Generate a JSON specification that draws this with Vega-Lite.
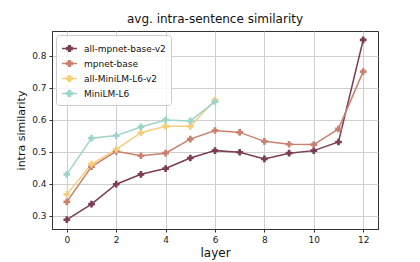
{
  "$schema": "https://vega.github.io/schema/vega-lite/v6.json",
  "autosize": {"type": "none"},
  "padding": {"left": 52, "top": 31, "right": 42, "bottom": 33},
  "width": 326,
  "height": 198,
  "background": "white",
  "config": {
    "font": "DejaVu Sans",
    "view": {"stroke": "#333", "strokeWidth": 1},
    "axis": {"gridColor": "#cfcfcf", "gridWidth": 1, "domainColor": "#333", "tickColor": "#333", "labelFontSize": 9, "labelColor": "#222", "titleFontWeight": "normal", "titleColor": "#111", "labelPadding": 3, "tickSize": 3}
  },
  "title": {"text": "avg. intra-sentence similarity", "fontSize": 12, "fontWeight": "normal", "font": "DejaVu Sans", "color": "#111", "offset": 5},
  "data": {"values": [
    {"model": "all-mpnet-base-v2", "layer": 0, "sim": 0.288},
    {"model": "all-mpnet-base-v2", "layer": 1, "sim": 0.337},
    {"model": "all-mpnet-base-v2", "layer": 2, "sim": 0.399},
    {"model": "all-mpnet-base-v2", "layer": 3, "sim": 0.43},
    {"model": "all-mpnet-base-v2", "layer": 4, "sim": 0.448},
    {"model": "all-mpnet-base-v2", "layer": 5, "sim": 0.481},
    {"model": "all-mpnet-base-v2", "layer": 6, "sim": 0.504},
    {"model": "all-mpnet-base-v2", "layer": 7, "sim": 0.499},
    {"model": "all-mpnet-base-v2", "layer": 8, "sim": 0.478},
    {"model": "all-mpnet-base-v2", "layer": 9, "sim": 0.496},
    {"model": "all-mpnet-base-v2", "layer": 10, "sim": 0.504},
    {"model": "all-mpnet-base-v2", "layer": 11, "sim": 0.531},
    {"model": "all-mpnet-base-v2", "layer": 12, "sim": 0.85},
    {"model": "mpnet-base", "layer": 0, "sim": 0.344},
    {"model": "mpnet-base", "layer": 1, "sim": 0.454},
    {"model": "mpnet-base", "layer": 2, "sim": 0.502},
    {"model": "mpnet-base", "layer": 3, "sim": 0.488},
    {"model": "mpnet-base", "layer": 4, "sim": 0.496},
    {"model": "mpnet-base", "layer": 5, "sim": 0.54},
    {"model": "mpnet-base", "layer": 6, "sim": 0.567},
    {"model": "mpnet-base", "layer": 7, "sim": 0.561},
    {"model": "mpnet-base", "layer": 8, "sim": 0.533},
    {"model": "mpnet-base", "layer": 9, "sim": 0.524},
    {"model": "mpnet-base", "layer": 10, "sim": 0.523},
    {"model": "mpnet-base", "layer": 11, "sim": 0.572},
    {"model": "mpnet-base", "layer": 12, "sim": 0.751},
    {"model": "all-MiniLM-L6-v2", "layer": 0, "sim": 0.367},
    {"model": "all-MiniLM-L6-v2", "layer": 1, "sim": 0.462},
    {"model": "all-MiniLM-L6-v2", "layer": 2, "sim": 0.508},
    {"model": "all-MiniLM-L6-v2", "layer": 3, "sim": 0.56},
    {"model": "all-MiniLM-L6-v2", "layer": 4, "sim": 0.58},
    {"model": "all-MiniLM-L6-v2", "layer": 5, "sim": 0.58},
    {"model": "all-MiniLM-L6-v2", "layer": 6, "sim": 0.662},
    {"model": "MiniLM-L6", "layer": 0, "sim": 0.43},
    {"model": "MiniLM-L6", "layer": 1, "sim": 0.543},
    {"model": "MiniLM-L6", "layer": 2, "sim": 0.551},
    {"model": "MiniLM-L6", "layer": 3, "sim": 0.578},
    {"model": "MiniLM-L6", "layer": 4, "sim": 0.6},
    {"model": "MiniLM-L6", "layer": 5, "sim": 0.597},
    {"model": "MiniLM-L6", "layer": 6, "sim": 0.657}
  ]},
  "encoding": {
    "x": {"field": "layer", "type": "quantitative", "scale": {"domain": [-0.6, 12.6], "nice": false, "zero": false}, "axis": {"values": [0, 2, 4, 6, 8, 10, 12], "title": "layer", "titleFontSize": 12, "titlePadding": 3}},
    "y": {"field": "sim", "type": "quantitative", "scale": {"domain": [0.259, 0.878], "nice": false, "zero": false}, "axis": {"values": [0.3, 0.4, 0.5, 0.6, 0.7, 0.8], "format": ".1f", "title": "intra similarity", "titleFontSize": 11, "titlePadding": 5}},
    "color": {"field": "model", "type": "nominal", "sort": ["all-mpnet-base-v2", "mpnet-base", "all-MiniLM-L6-v2", "MiniLM-L6"],
      "scale": {"domain": ["all-mpnet-base-v2", "mpnet-base", "all-MiniLM-L6-v2", "MiniLM-L6"], "range": ["#7a3d55", "#c9806d", "#f5cf7f", "#9fd4c8"]},
      "legend": {"orient": "top-left", "title": null, "offset": 4, "labelFontSize": 9, "labelColor": "#111", "strokeColor": "#cccccc", "padding": 5, "cornerRadius": 3, "fillColor": "rgba(255,255,255,0.8)",
        "symbolType": "M-1,0H1M-0.12,-0.36H0.12V-0.12H0.36V0.12H0.12V0.36H-0.12V0.12H-0.36V-0.12H-0.12Z",
        "symbolStrokeWidth": 1.5, "symbolSize": 220, "rowPadding": 0, "labelOffset": 6,
        "encode": {"symbols": {"update": {"fill": {"scale": "color", "field": "value"}, "stroke": {"scale": "color", "field": "value"}, "opacity": {"value": 1}}}}}}
  },
  "layer": [
    {"mark": {"type": "line", "strokeWidth": 1.5}},
    {"mark": {"type": "point", "shape": "cross", "filled": true, "size": 45, "opacity": 1}}
  ]
}
